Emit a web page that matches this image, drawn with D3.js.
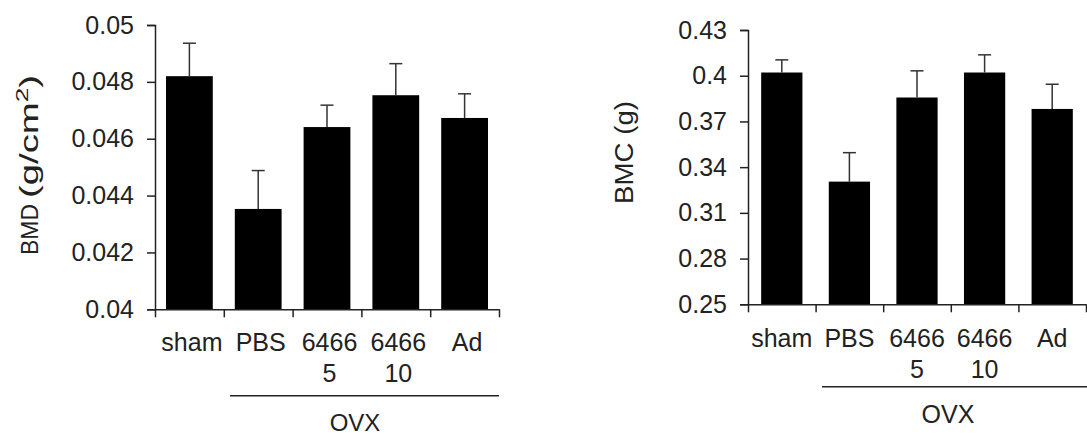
<!DOCTYPE html>
<html><head><meta charset="utf-8">
<script src="https://cdn.jsdelivr.net/npm/d3@7"></script>
<style>body{margin:0;background:#fff}svg{display:block}text{font-family:"Liberation Sans",Arial,sans-serif;fill:#222}</style>
</head><body><svg id="c" width="1087" height="436"></svg>
<script>
const categories = [["sham"], ["PBS"], ["6466", "5"], ["6466", "10"], ["Ad"]];
const bmdValues = [0.0482, 0.04353, 0.04641, 0.04753, 0.04673];
const bmdErrTop = [0.04936, 0.04488, 0.04718, 0.04864, 0.04758];
const bmdTicks = [0.04, 0.042, 0.044, 0.046, 0.048, 0.05];
const bmdTickLabels = ["0.04", "0.042", "0.044", "0.046", "0.048", "0.05"];
const bmcValues = [0.4021, 0.3305, 0.3857, 0.4021, 0.3782];
const bmcErrTop = [0.4104, 0.3495, 0.4032, 0.4137, 0.3944];
const bmcTicks = [0.25, 0.28, 0.31, 0.34, 0.37, 0.4, 0.43];
const bmcTickLabels = ["0.25", "0.28", "0.31", "0.34", "0.37", "0.4", "0.43"];
const groupLabel = "OVX";

const svg = d3.select("#c");
const FS = 25;

function panel(o) {
  const g = svg.append("g");
  const x = d3.scaleBand().domain(d3.range(categories.length)).range(o.xr).paddingInner(o.pad).paddingOuter(o.pad/2);
  const y = d3.scaleLinear().domain(o.dom).range(o.yr);
  g.selectAll("rect.bar").data(o.vals).join("rect")
    .attr("x", (d,i) => x(i)).attr("width", x.bandwidth())
    .attr("y", d => y(d)).attr("height", d => y(o.dom[0]) - y(d)).attr("fill", "#000");
  const eb = g.append("g").attr("stroke", "#333").attr("stroke-width", 1.5);
  o.err.forEach((e,i) => {
    const cx = x(i) + x.bandwidth()/2;
    eb.append("line").attr("x1", cx).attr("x2", cx).attr("y1", y(o.vals[i])).attr("y2", y(e));
    eb.append("line").attr("x1", cx-6.5).attr("x2", cx+6.5).attr("y1", y(e)).attr("y2", y(e));
  });
  const ya = g.append("g").attr("transform", `translate(${o.xr[0]},0)`)
    .call(d3.axisLeft(y).tickValues(o.ticks).tickFormat((d,i) => o.tickLabels[i]).tickSizeOuter(0).tickSize(8).tickPadding(13));
  ya.select(".domain").attr("stroke", "#222").attr("stroke-width", 1.5);
  ya.selectAll(".tick line").attr("stroke", "#222").attr("stroke-width", 1.5);
  ya.selectAll(".tick text").attr("font-size", FS).attr("fill", "#222").attr("font-family", "Liberation Sans, Arial, sans-serif");
  const xl = d3.scaleLinear().domain([0, categories.length]).range(o.xr);
  const xa = g.append("g").attr("transform", `translate(0,${o.yr[0]})`)
    .call(d3.axisBottom(xl).ticks(categories.length).tickFormat("").tickSize(8).tickSizeOuter(0));
  xa.select(".domain").attr("stroke", "#222").attr("stroke-width", 1.5);
  xa.selectAll(".tick line").attr("stroke", "#222").attr("stroke-width", 1.5);
  categories.forEach((lines, i) => {
    const cx = x(i) + x.bandwidth()/2 + o.lx;
    lines.forEach((t, k) => {
      g.append("text").attr("text-anchor", "middle").attr("font-size", FS)
        .attr("x", cx).attr("y", o.lb + k*30.5).text(t);
    });
  });
  g.append("line").attr("x1", o.ovx[0]).attr("x2", o.ovx[1]).attr("y1", o.ovxY).attr("y2", o.ovxY)
    .attr("stroke", "#222").attr("stroke-width", 1.5);
  g.append("text").attr("text-anchor", "middle").attr("font-size", o.ovxFS)
    .attr("x", o.ovxT[0]).attr("y", o.ovxT[1]).text(groupLabel);
  const tg = g.append("g").attr("transform", `translate(${o.ytX},0) rotate(-90)`);
  o.ytitle(tg);
}

panel({
  xr: [155, 499], yr: [309.3, 25], dom: [0.04, 0.05], pad: 0.32,
  vals: bmdValues, err: bmdErrTop, ticks: bmdTicks, tickLabels: bmdTickLabels,
  lx: 2.5, lb: 351, ovx: [230, 499], ovxY: 395.7, ovxT: [355, 431], ovxFS: 24,
  ytX: 38,
  ytitle: tg => {
    tg.append("text").attr("font-size", 24).attr("x", -255).attr("y", 0).attr("textLength", 51).attr("lengthAdjust", "spacingAndGlyphs").text("BMD");
    const t = tg.append("text").attr("font-size", 25).attr("x", -198).attr("y", 0).attr("textLength", 123).attr("lengthAdjust", "spacingAndGlyphs");
    t.append("tspan").text("(g/cm");
    t.append("tspan").attr("font-size", 17).attr("dy", -10).text("2");
    t.append("tspan").attr("dy", 10).text(")");
  }
});
panel({
  xr: [748, 1086], yr: [304.3, 30], dom: [0.25, 0.43], pad: 0.39,
  vals: bmcValues, err: bmcErrTop, ticks: bmcTicks, tickLabels: bmcTickLabels,
  lx: 0, lb: 347, ovx: [822, 1087], ovxY: 386.7, ovxT: [948, 423], ovxFS: 25,
  ytX: 633,
  ytitle: tg => tg.append("text").attr("font-size", 25).attr("text-anchor", "middle").attr("x", -152.5).attr("y", 0)
    .attr("textLength", 103).attr("lengthAdjust", "spacingAndGlyphs").text("BMC (g)")
});
</script></body></html>
